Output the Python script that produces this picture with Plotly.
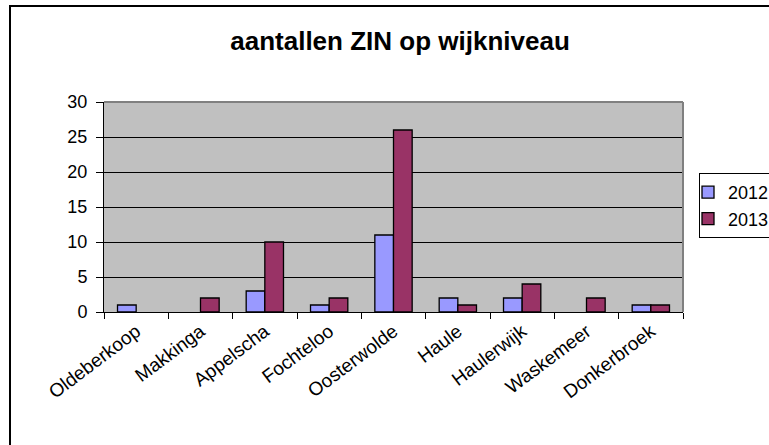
import plotly.graph_objects as go

categories = ["Oldeberkoop", "Makkinga", "Appelscha", "Fochteloo", "Oosterwolde",
              "Haule", "Haulerwijk", "Waskemeer", "Donkerbroek"]
values_2012 = [1, 0, 3, 1, 11, 2, 2, 0, 1]
values_2013 = [0, 2, 10, 2, 26, 1, 4, 2, 1]
series_names = ["2012", "2013"]
y_ticks = [0, 5, 10, 15, 20, 25, 30]

FONT = "Liberation Sans, Arial, sans-serif"

# plot-area geometry in pixels (window 769x445)
L, R, T, B = 104, 683, 102, 312
W, H = 769, 445
pw, ph = R - L, B - T

def px_x(x):
    return (x - L) / pw

def px_y(y):
    return (B - y) / ph

def hide_zero(vals):
    # zero-height bars are not drawn (no outline) as in the reference
    return [v if v != 0 else None for v in vals]

fig = go.Figure()
fig.add_trace(go.Bar(x=categories, y=hide_zero(values_2012), name=series_names[0],
                     legendgroup="a",
                     marker=dict(color="#9999FF", line=dict(color="black", width=1.3))))
fig.add_trace(go.Bar(x=categories, y=hide_zero(values_2013), name=series_names[1],
                     legendgroup="b",
                     marker=dict(color="#993366", line=dict(color="black", width=1.3))))

fig.update_layout(
    width=W, height=H,
    margin=dict(l=L, r=W - R, t=T, b=H - B, pad=0, autoexpand=False),
    paper_bgcolor="white",
    plot_bgcolor="#C0C0C0",
    barmode="group",
    bargap=0.42,
    bargroupgap=0,
    font=dict(family=FONT, size=17, color="black"),
    title=dict(text="<b>aantallen ZIN op wijkniveau</b>",
               font=dict(family=FONT, size=26, color="black"),
               x=px_x(400), xref="paper", xanchor="center",
               y=1 - 41 / H, yref="container", yanchor="middle"),
    showlegend=True,
    legend=dict(x=px_x(699), y=px_y(173), xanchor="left", yanchor="top",
                bordercolor="black", borderwidth=1, bgcolor="white",
                font=dict(family=FONT, size=18, color="black"),
                tracegroupgap=8, indentation=-12, itemwidth=30,
                traceorder="normal"),
    xaxis=dict(type="category", showgrid=False, showline=True, linecolor="black",
               linewidth=1, ticks="outside", ticklen=6, tickcolor="black",
               tickson="boundaries", tickangle=-37, automargin=False,
               tickfont=dict(family=FONT, size=19, color="black"),
               fixedrange=True),
    yaxis=dict(range=[0, 30], tickvals=y_ticks, showgrid=True, gridcolor="black",
               gridwidth=1, showline=True, linecolor="black", linewidth=1,
               zeroline=False, ticks="outside", ticklen=7, tickcolor="black",
               ticklabelstandoff=5, automargin=False,
               tickfont=dict(family=FONT, size=18, color="black"),
               fixedrange=True),
    shapes=[
        # grey top and right plot-area border
        dict(type="line", xref="paper", yref="paper", x0=0, x1=1, y0=1, y1=1,
             line=dict(color="#808080", width=2), layer="above"),
        dict(type="line", xref="paper", yref="paper", x0=1, x1=1, y0=0, y1=1,
             line=dict(color="#808080", width=2), layer="above"),
        # outer chart border
        dict(type="rect", xref="paper", yref="paper",
             x0=px_x(10), x1=px_x(800), y0=px_y(470), y1=px_y(6),
             line=dict(color="black", width=2), fillcolor="rgba(0,0,0,0)",
             layer="above"),
    ],
)

fig.write_html("out.html",
               config={"displayModeBar": False},
               post_script="document.body.style.margin='0';"
                           "document.body.style.overflow='hidden';")
